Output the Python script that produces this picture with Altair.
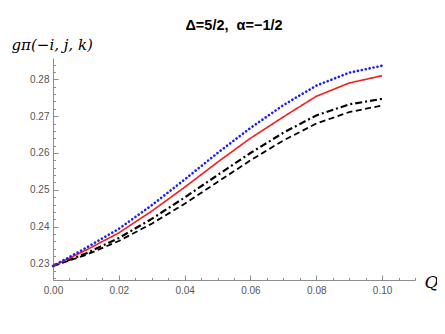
import altair as alt
import pandas as pd

Q = [0.00, 0.01, 0.02, 0.03, 0.04, 0.05, 0.06, 0.07, 0.08, 0.09, 0.10]
blue_dotted = [0.2293, 0.2342, 0.2394, 0.2458, 0.2528, 0.2600, 0.2668, 0.2730, 0.2783, 0.2818, 0.2837]
red_solid = [0.2293, 0.2336, 0.2383, 0.2442, 0.2507, 0.2575, 0.2640, 0.2698, 0.2754, 0.2790, 0.2810]
black_dashdot = [0.2293, 0.2327, 0.2369, 0.2421, 0.2479, 0.2540, 0.2600, 0.2655, 0.2702, 0.2732, 0.2747]
black_dashed = [0.2293, 0.2323, 0.2361, 0.2408, 0.2462, 0.2521, 0.2580, 0.2634, 0.2680, 0.2711, 0.2729]

x_major = [0.00, 0.02, 0.04, 0.06, 0.08, 0.10]
x_minor = [0.005, 0.01, 0.015, 0.025, 0.03, 0.035, 0.045, 0.05, 0.055, 0.065,
           0.07, 0.075, 0.085, 0.09, 0.095, 0.105, 0.11]
y_major = [0.23, 0.24, 0.25, 0.26, 0.27, 0.28]
y_minor = [0.226, 0.228, 0.232, 0.234, 0.236, 0.238, 0.242, 0.244, 0.246, 0.248,
           0.252, 0.254, 0.256, 0.258, 0.262, 0.264, 0.266, 0.268, 0.272, 0.274,
           0.276, 0.278, 0.282, 0.284]

X_DOMAIN = [0, 0.11]
Y_DOMAIN = [0.2255, 0.2858]
W, H = 362, 222
AXIS_GRAY = "#8c8c8c"
LABEL_GRAY = "#555555"

def frame(vals):
    return pd.DataFrame({"Q": Q, "g": vals})

xs = alt.Scale(domain=X_DOMAIN, nice=False, zero=False)
ys = alt.Scale(domain=Y_DOMAIN, nice=False, zero=False)

main_x_axis = alt.Axis(values=x_major, format=".2f", tickSize=0, grid=False,
                       domainColor=AXIS_GRAY, labelColor=LABEL_GRAY, labelFontSize=10,
                       labelFont="Liberation Sans", labelPadding=5,
                       title="Q", titleFont="DejaVu Serif", titleFontStyle="italic",
                       titleFontWeight="normal", titleFontSize=17, titleColor="black",
                       titleX=W + 16, titleY=2, titleAlign="center", titleBaseline="middle",
                       labelFlush=False)
main_y_axis = alt.Axis(values=y_major, format=".2f", tickSize=0, grid=False,
                       domainColor=AXIS_GRAY, labelColor=LABEL_GRAY, labelFontSize=10,
                       labelFont="Liberation Sans", labelPadding=4,
                       title="gπ(−i, j, k)", titleFont="DejaVu Serif", titleFontStyle="italic",
                       titleFontWeight="normal", titleFontSize=15, titleColor="black",
                       titleAngle=0, titleX=-42, titleY=-9, titleAlign="left",
                       titleBaseline="alphabetic")

def line_layer(vals, color, width, dash, cap, axes=False):
    base = alt.Chart(frame(vals)).mark_line(color=color, strokeWidth=width,
                                            strokeDash=dash, strokeCap=cap)
    if axes:
        return base.encode(x=alt.X("Q:Q", scale=xs, axis=main_x_axis),
                           y=alt.Y("g:Q", scale=ys, axis=main_y_axis))
    return base.encode(x=alt.X("Q:Q", scale=xs, axis=None),
                       y=alt.Y("g:Q", scale=ys, axis=None))

dashed = line_layer(black_dashed, "black", 1.8, [6, 3.5], "butt", axes=True)
dashdot = line_layer(black_dashdot, "black", 2.2, [7, 3, 2, 3], "butt")
red = line_layer(red_solid, "#f21d1d", 1.6, [1, 0], "butt")
blue = line_layer(blue_dotted, "#1a1aff", 2.6, [0.1, 3.9], "round")

def tick_layer(xvals, yvals, size):
    return alt.Chart(frame(blue_dotted)).mark_point(opacity=0).encode(
        x=alt.X("Q:Q", scale=xs, axis=alt.Axis(orient="top", offset=-H, values=xvals,
                                                labels=False, domain=False, grid=False,
                                                tickSize=size, tickColor=AXIS_GRAY,
                                                title=None)),
        y=alt.Y("g:Q", scale=ys, axis=alt.Axis(orient="right", offset=-W, values=yvals,
                                                labels=False, domain=False, grid=False,
                                                tickSize=size, tickColor=AXIS_GRAY,
                                                title=None)),
    )

major_ticks = tick_layer(x_major, y_major, 5)
minor_ticks = tick_layer(x_minor, y_minor, 2.5)

chart = alt.layer(dashed, dashdot, red, blue, major_ticks, minor_ticks).resolve_axis(
    x="independent", y="independent"
).properties(
    width=W, height=H,
    title=alt.TitleParams("Δ=5/2,\u00a0\u00a0α=−1/2", font="Liberation Sans", fontSize=14.5,
                          fontWeight="bold", color="black", anchor="middle", offset=4),
    autosize=alt.AutoSizeParams(type="none"),
    padding={"left": 45, "top": 50, "right": 22, "bottom": 46},
).configure_view(stroke=None)

chart.save("out.html", embed_options={"renderer": "svg", "actions": False})
